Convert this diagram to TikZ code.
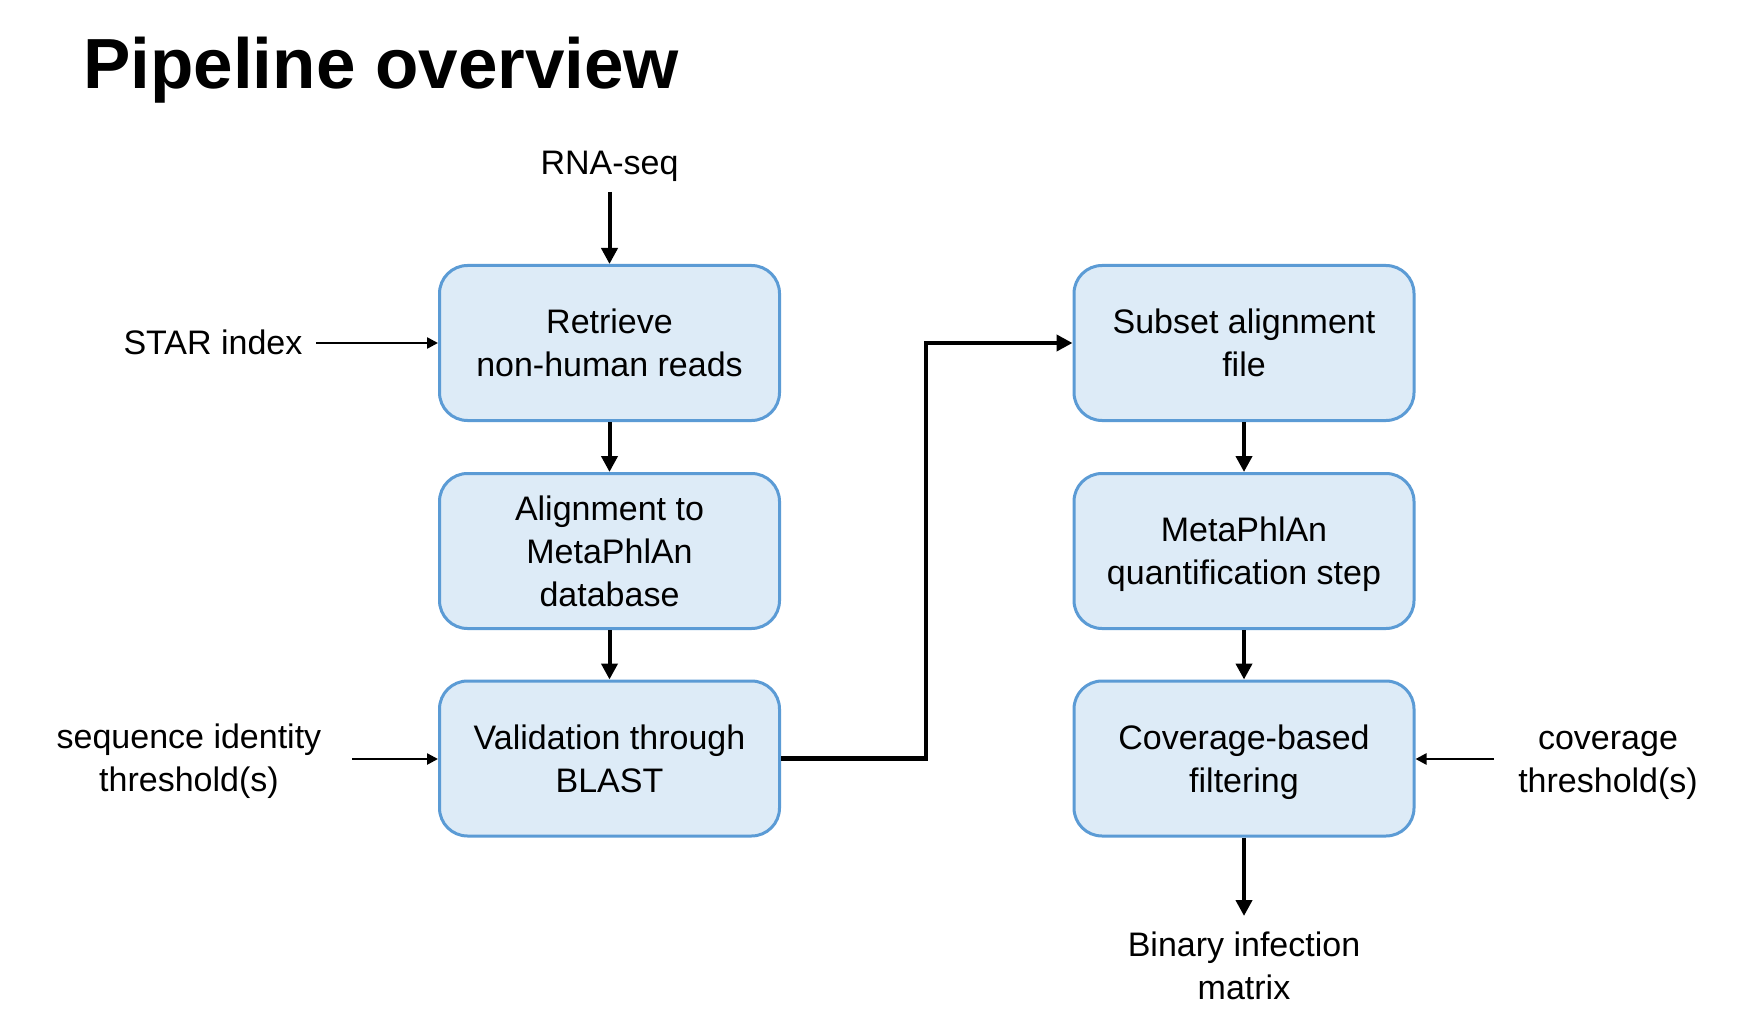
\documentclass[tikz,border=0pt]{standalone}
\usepackage{fontspec}
\setmainfont{Liberation Sans}
\usetikzlibrary{arrows.meta}
\definecolor{boxfill}{RGB}{221,235,247}
\definecolor{boxline}{RGB}{91,155,213}
\newcommand{\nodp}[1]{\raisebox{0pt}[\height][0pt]{#1}}
\begin{document}
\begin{tikzpicture}[x=1pt,y=-1pt,
  proc/.style={draw=boxline, line width=3pt, fill=boxfill, rounded corners=28pt,
    minimum width=340pt, minimum height=155pt, align=center,
    font=\fontsize{34}{43}\selectfont, inner sep=0pt},
  lbl/.style={align=center, font=\fontsize{34}{43}\selectfont, inner sep=0pt},
  bigarrow/.style={line width=4pt, -{Triangle[length=16pt,width=16pt]}},
  smallarrow/.style={line width=2.5pt, -{Triangle[length=11pt,width=11pt]}}
]
\useasboundingbox (0,0) rectangle (1742,1016);
\fill[white] (0,0) rectangle (1742,1016);
\node[anchor=base west, font=\bfseries\fontsize{71}{80}\selectfont, inner sep=0pt] (title) at (83,89) {Pipeline overview};

\node[proc] (retr) at (609.5,343) {Retrieve\\non-human reads};
\node[proc] (align) at (609.5,551) {Alignment to\\MetaPhlAn\\database};
\node[proc] (blast) at (609.5,758.5) {Validation through\\BLAST};
\node[proc] (subset) at (1244,343) {Subset alignment\\file};
\node[proc] (quant) at (1244,551) {MetaPhlAn\\\nodp{quantification step}};
\node[proc] (cov) at (1244,758.5) {Coverage-based\\\nodp{filtering}};

\node[lbl] (rna) at (609.5,166) {RNA-seq};
\node[lbl] (star) at (213,342) {STAR index};
\node[lbl] (seq) at (189,761) {sequence identity\\threshold(s)};
\node[lbl] (covth) at (1608,765) {coverage\\threshold(s)};
\node[lbl] (bin) at (1244,966) {Binary infection\\matrix};

\coordinate (rnastart) at (609.5,192);
\coordinate (starstart) at (316,343);
\coordinate (seqstart) at (352,759);
\coordinate (covstart) at (1494,759);
\coordinate (binend) at (1244,916);
\coordinate (elbowtop) at (926,343);

\draw[bigarrow] (rnastart) -- (retr.north);
\draw[bigarrow] (retr) -- (align);
\draw[bigarrow] (align) -- (blast);
\draw[bigarrow] (subset) -- (quant);
\draw[bigarrow] (quant) -- (cov);
\draw[bigarrow] (cov.south) -- (binend);
\draw[smallarrow] (starstart) -- (starstart -| retr.west);
\draw[smallarrow] (seqstart) -- (seqstart -| blast.west);
\draw[smallarrow] (covstart) -- (covstart -| cov.east);
\draw[bigarrow, line width=4.5pt] (blast.east) -| (elbowtop) -- (subset.west);
\end{tikzpicture}
\end{document}
